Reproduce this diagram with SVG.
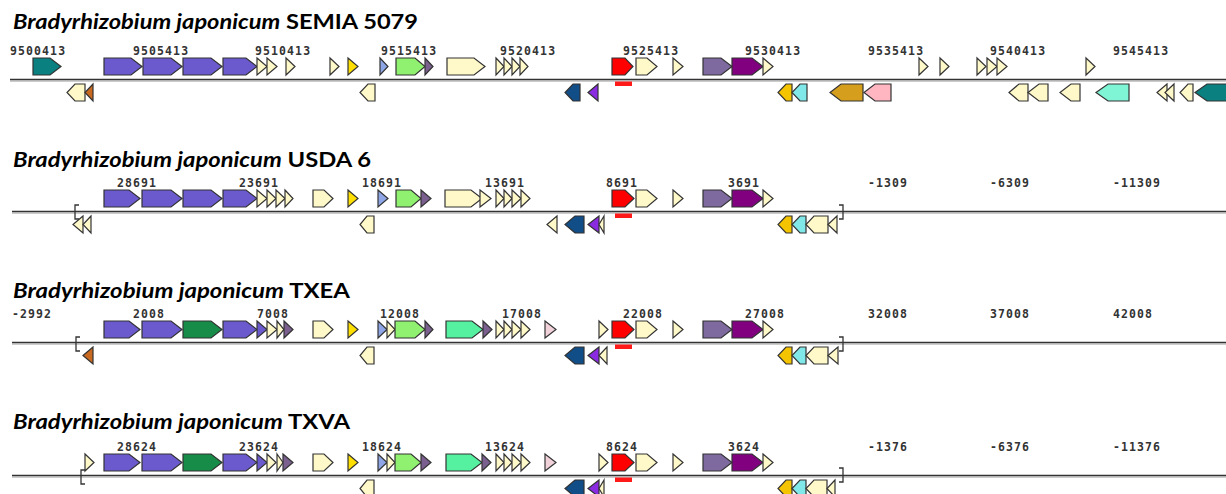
<svg xmlns="http://www.w3.org/2000/svg" width="1226" height="494" viewBox="0 0 1226 494">
<style>
.title{font-family:Lato,"Open Sans","Liberation Sans",sans-serif;font-weight:bold;font-size:21px;fill:#000}
.it{font-style:italic}
.lbl{font-family:"DejaVu Sans Mono","Liberation Mono",monospace;font-size:11.5px;font-weight:bold;fill:#333;letter-spacing:1.1px}
polygon{stroke:#333;stroke-width:1.2;stroke-linejoin:miter}
.ax1{stroke:#333;stroke-width:1.6}
.ax2{stroke:#9a9a9a;stroke-width:1}
.br{fill:none;stroke:#333;stroke-width:1.3}
.bar{fill:#ff1a1a}
.slate{fill:#6a5acd}.teal{fill:#0a8080}.pale{fill:#fff8c8}.yel{fill:#ffdf00}.lblue{fill:#8fa6e6}
.lgreen{fill:#90f070}.gp{fill:#7a5f8f}.red{fill:#ff0000}.gpb{fill:#7f6a9f}.purp{fill:#800080}
.dblue{fill:#114d86}.bv{fill:#8a2be2}.gold{fill:#f5c400}.cyan{fill:#80e8e8}.gr{fill:#d59f1d}
.pink{fill:#ffb6c1}.aqua{fill:#7ff5d5}.dgreen{fill:#178c48}.sgreen{fill:#55f0a0}.ppink{fill:#f2d2da}.orng{fill:#c8691f}
</style>

<!-- Track 1 -->
<g id="track-semia5079">
<text class="title" x="13" y="29" textLength="405" lengthAdjust="spacingAndGlyphs"><tspan class="it">Bradyrhizobium japonicum</tspan> SEMIA 5079</text>
<g transform="translate(0,58)">
<g class="lbl"><text x="10" y="-3">9500413</text><text x="133" y="-3">9505413</text><text x="255" y="-3">9510413</text><text x="381" y="-3">9515413</text><text x="500" y="-3">9520413</text><text x="623" y="-3">9525413</text><text x="745" y="-3">9530413</text><text x="868" y="-3">9535413</text><text x="990" y="-3">9540413</text><text x="1113" y="-3">9545413</text></g>
<line class="ax1" x1="10" y1="21.5" x2="1226" y2="21.5"/><line class="ax2" x1="10" y1="23" x2="1226" y2="23"/>
<g id="t1-genes">
<polygon class="teal" points="33,0 50,0 61,8.5 50,17 33,17"/>
<polygon class="slate" points="104,0 131,0 142,8.5 131,17 104,17"/>
<polygon class="slate" points="143,0 171,0 182,8.5 171,17 143,17"/>
<polygon class="slate" points="183,0 211,0 222,8.5 211,17 183,17"/>
<polygon class="slate" points="223,0 246,0 257,8.5 246,17 223,17"/>
<polygon class="pale" points="257,0 267,8.5 257,17"/>
<polygon class="pale" points="267,0 277,8.5 267,17"/>
<polygon class="pale" points="286,0 295,8.5 286,17"/>
<polygon class="pale" points="330,0 339,8.5 330,17"/>
<polygon class="yel" points="348,0 358,8.5 348,17"/>
<polygon class="lblue" points="380,0 388,8.5 380,17"/>
<polygon class="lgreen" points="396,0 415,0 425,8.5 415,17 396,17"/>
<polygon class="gp" points="425,0 433,8.5 425,17"/>
<polygon class="pale" points="447,0 474,0 485,8.5 474,17 447,17"/>
<polygon class="pale" points="496,0 504,8.5 496,17"/>
<polygon class="pale" points="504,0 512,8.5 504,17"/>
<polygon class="pale" points="512,0 520,8.5 512,17"/>
<polygon class="pale" points="520,0 528,8.5 520,17"/>
<polygon class="red" points="612,0 625,0 633,8.5 625,17 612,17"/>
<polygon class="pale" points="636,0 647,0 657,8.5 647,17 636,17"/>
<polygon class="pale" points="673,0 683,8.5 673,17"/>
<polygon class="gpb" points="703,0 721,0 732,8.5 721,17 703,17"/>
<polygon class="purp" points="732,0 752,0 763,8.5 752,17 732,17"/>
<polygon class="pale" points="763,0 773,8.5 763,17"/>
<polygon class="pale" points="919,0 928,8.5 919,17"/>
<polygon class="pale" points="940,0 949,8.5 940,17"/>
<polygon class="pale" points="977,0 986,8.5 977,17"/>
<polygon class="pale" points="987,0 997,8.5 987,17"/>
<polygon class="pale" points="997,0 1007,8.5 997,17"/>
<polygon class="pale" points="1086,0 1095,8.5 1086,17"/>
<polygon class="pale" points="85,26 75,26 67,34.5 75,43 85,43"/>
<polygon class="orng" points="93,26 85,34.5 93,43"/>
<polygon class="pale" points="375,26 368,26 360,34.5 368,43 375,43"/>
<polygon class="dblue" points="580,26 573,26 565,34.5 573,43 580,43"/>
<polygon class="bv" points="598,26 588,34.5 598,43"/>
<rect class="bar" x="615" y="23.5" width="17" height="4.5"/>
<polygon class="gold" points="792,26 786,26 778,34.5 786,43 792,43"/>
<polygon class="cyan" points="807,26 800,26 792,34.5 800,43 807,43"/>
<polygon class="gr" points="863,26 841,26 830,34.5 841,43 863,43"/>
<polygon class="pink" points="891,26 875,26 864,34.5 875,43 891,43"/>
<polygon class="pale" points="1028,26 1019,26 1009,34.5 1019,43 1028,43"/>
<polygon class="pale" points="1048,26 1039,26 1028,34.5 1039,43 1048,43"/>
<polygon class="pale" points="1080,26 1071,26 1060,34.5 1071,43 1080,43"/>
<polygon class="aqua" points="1129,26 1108,26 1096,34.5 1108,43 1129,43"/>
<polygon class="pale" points="1167,26 1157,34.5 1167,43"/>
<polygon class="pale" points="1174,26 1165,34.5 1174,43"/>
<polygon class="pale" points="1193,26 1188,26 1180,34.5 1188,43 1193,43"/>
<polygon class="teal" points="1232,26 1207,26 1195,34.5 1207,43 1232,43"/>
</g>
</g>
</g>

<!-- Track 2 -->
<g id="track-usda6">
<text class="title" x="13" y="167" textLength="358" lengthAdjust="spacingAndGlyphs"><tspan class="it">Bradyrhizobium japonicum</tspan> USDA 6</text>
<g transform="translate(0,190)">
<g class="lbl"><text x="117" y="-3">28691</text><text x="239" y="-3">23691</text><text x="362" y="-3">18691</text><text x="485" y="-3">13691</text><text x="606" y="-3">8691</text><text x="728" y="-3">3691</text><text x="868" y="-3">-1309</text><text x="990" y="-3">-6309</text><text x="1113" y="-3">-11309</text></g>
<line class="ax1" x1="12" y1="21.5" x2="1226" y2="21.5"/><line class="ax2" x1="12" y1="23" x2="1226" y2="23"/>
<path class="br" d="M79,15 H75 V29 H79"/><path class="br" d="M839,15 H843 V29 H839"/>
<g id="t2-genes">
<polygon class="slate" points="104,0 129,0 140,8.5 129,17 104,17"/>
<polygon class="slate" points="142,0 171,0 182,8.5 171,17 142,17"/>
<polygon class="slate" points="183,0 211,0 222,8.5 211,17 183,17"/>
<polygon class="slate" points="223,0 246,0 257,8.5 246,17 223,17"/>
<polygon class="pale" points="257,0 267,8.5 257,17"/>
<polygon class="pale" points="267,0 276,8.5 267,17"/>
<polygon class="pale" points="276,0 285,8.5 276,17"/>
<polygon class="pale" points="285,0 293,8.5 285,17"/>
<polygon class="pale" points="313,0 324,0 333,8.5 324,17 313,17"/>
<polygon class="yel" points="348,0 358,8.5 348,17"/>
<polygon class="lblue" points="378,0 388,8.5 378,17"/>
<polygon class="lgreen" points="396,0 411,0 421,8.5 411,17 396,17"/>
<polygon class="gp" points="421,0 431,8.5 421,17"/>
<polygon class="pale" points="445,0 471,0 482,8.5 471,17 445,17"/>
<polygon class="pale" points="480,0 491,8.5 480,17"/>
<polygon class="pale" points="496,0 504,8.5 496,17"/>
<polygon class="pale" points="504,0 512,8.5 504,17"/>
<polygon class="pale" points="512,0 521,8.5 512,17"/>
<polygon class="pale" points="521,0 530,8.5 521,17"/>
<polygon class="red" points="612,0 625,0 634,8.5 625,17 612,17"/>
<polygon class="pale" points="636,0 647,0 657,8.5 647,17 636,17"/>
<polygon class="pale" points="673,0 683,8.5 673,17"/>
<polygon class="gpb" points="703,0 721,0 732,8.5 721,17 703,17"/>
<polygon class="purp" points="732,0 752,0 763,8.5 752,17 732,17"/>
<polygon class="pale" points="763,0 773,8.5 763,17"/>
<polygon class="pale" points="83,26 73,34.5 83,43"/>
<polygon class="pale" points="91,26 83,34.5 91,43"/>
<polygon class="pale" points="374,26 367,26 360,34.5 367,43 374,43"/>
<polygon class="pale" points="557,26 547,34.5 557,43"/>
<polygon class="dblue" points="584,26 575,26 565,34.5 575,43 584,43"/>
<polygon class="bv" points="599,26 588,34.5 599,43"/>
<polygon class="pale" points="604,26 599,34.5 604,43"/>
<rect class="bar" x="615" y="23.5" width="17" height="4.5"/>
<polygon class="gold" points="792,26 786,26 778,34.5 786,43 792,43"/>
<polygon class="cyan" points="806,26 800,26 792,34.5 800,43 806,43"/>
<polygon class="pale" points="828,26 814,26 806,34.5 814,43 828,43"/>
<polygon class="pale" points="837,26 828,34.5 837,43"/>
</g>
</g>
</g>

<!-- Track 3 -->
<g id="track-txea">
<text class="title" x="13" y="298" textLength="337" lengthAdjust="spacingAndGlyphs"><tspan class="it">Bradyrhizobium japonicum</tspan> TXEA</text>
<g transform="translate(0,321)">
<g class="lbl"><text x="12" y="-3">-2992</text><text x="133" y="-3">2008</text><text x="257" y="-3">7008</text><text x="380" y="-3">12008</text><text x="502" y="-3">17008</text><text x="623" y="-3">22008</text><text x="745" y="-3">27008</text><text x="868" y="-3">32008</text><text x="990" y="-3">37008</text><text x="1113" y="-3">42008</text></g>
<line class="ax1" x1="12" y1="21.5" x2="1226" y2="21.5"/><line class="ax2" x1="12" y1="23" x2="1226" y2="23"/>
<path class="br" d="M80,16 H76 V30 H80"/><path class="br" d="M839,16 H843 V30 H839"/>
<g id="t3-genes">
<polygon class="slate" points="104,0 129,0 140,8.5 129,17 104,17"/>
<polygon class="slate" points="142,0 171,0 182,8.5 171,17 142,17"/>
<polygon class="dgreen" points="183,0 211,0 222,8.5 211,17 183,17"/>
<polygon class="slate" points="223,0 246,0 257,8.5 246,17 223,17"/>
<polygon class="slate" points="257,0 267,8.5 257,17"/>
<polygon class="pale" points="267,0 277,8.5 267,17"/>
<polygon class="pale" points="277,0 284,8.5 277,17"/>
<polygon class="gp" points="284,0 293,8.5 284,17"/>
<polygon class="pale" points="313,0 324,0 333,8.5 324,17 313,17"/>
<polygon class="yel" points="348,0 358,8.5 348,17"/>
<polygon class="lblue" points="378,0 387,8.5 378,17"/>
<polygon class="pale" points="387,0 395,8.5 387,17"/>
<polygon class="lgreen" points="395,0 415,0 425,8.5 415,17 395,17"/>
<polygon class="gp" points="425,0 433,8.5 425,17"/>
<polygon class="sgreen" points="446,0 472,0 483,8.5 472,17 446,17"/>
<polygon class="gp" points="483,0 492,8.5 483,17"/>
<polygon class="pale" points="496,0 504,8.5 496,17"/>
<polygon class="pale" points="504,0 512,8.5 504,17"/>
<polygon class="pale" points="512,0 521,8.5 512,17"/>
<polygon class="pale" points="521,0 530,8.5 521,17"/>
<polygon class="ppink" points="545,0 556,8.5 545,17"/>
<polygon class="pale" points="599,0 608,8.5 599,17"/>
<polygon class="red" points="612,0 625,0 634,8.5 625,17 612,17"/>
<polygon class="pale" points="636,0 647,0 657,8.5 647,17 636,17"/>
<polygon class="pale" points="673,0 683,8.5 673,17"/>
<polygon class="gpb" points="703,0 721,0 732,8.5 721,17 703,17"/>
<polygon class="purp" points="732,0 752,0 763,8.5 752,17 732,17"/>
<polygon class="pale" points="763,0 773,8.5 763,17"/>
<polygon class="orng" points="93,26 83,34.5 93,43"/>
<polygon class="pale" points="374,26 367,26 360,34.5 367,43 374,43"/>
<polygon class="dblue" points="584,26 575,26 565,34.5 575,43 584,43"/>
<polygon class="bv" points="599,26 588,34.5 599,43"/>
<polygon class="pale" points="607,26 599,34.5 607,43"/>
<rect class="bar" x="615" y="23.5" width="17" height="4.5"/>
<polygon class="gold" points="792,26 786,26 778,34.5 786,43 792,43"/>
<polygon class="cyan" points="806,26 800,26 792,34.5 800,43 806,43"/>
<polygon class="pale" points="828,26 814,26 806,34.5 814,43 828,43"/>
<polygon class="pale" points="838,26 828,34.5 838,43"/>
</g>
</g>
</g>

<!-- Track 4 -->
<g id="track-txva">
<text class="title" x="13" y="429" textLength="337" lengthAdjust="spacingAndGlyphs"><tspan class="it">Bradyrhizobium japonicum</tspan> TXVA</text>
<g transform="translate(0,454)">
<g class="lbl"><text x="117" y="-3">28624</text><text x="239" y="-3">23624</text><text x="362" y="-3">18624</text><text x="485" y="-3">13624</text><text x="606" y="-3">8624</text><text x="728" y="-3">3624</text><text x="868" y="-3">-1376</text><text x="990" y="-3">-6376</text><text x="1113" y="-3">-11376</text></g>
<line class="ax1" x1="12" y1="21.5" x2="1226" y2="21.5"/><line class="ax2" x1="12" y1="23" x2="1226" y2="23"/>
<path class="br" d="M85,16 H81 V30 H85"/><path class="br" d="M839,14 H843 V28 H839"/>
<g id="t4-genes">
<polygon class="pale" points="85,0 94,8.5 85,17"/>
<polygon class="slate" points="104,0 129,0 140,8.5 129,17 104,17"/>
<polygon class="slate" points="142,0 171,0 182,8.5 171,17 142,17"/>
<polygon class="dgreen" points="183,0 211,0 222,8.5 211,17 183,17"/>
<polygon class="slate" points="223,0 246,0 257,8.5 246,17 223,17"/>
<polygon class="slate" points="257,0 267,8.5 257,17"/>
<polygon class="pale" points="267,0 276,8.5 267,17"/>
<polygon class="pale" points="277,0 283,8.5 277,17"/>
<polygon class="gp" points="283,0 293,8.5 283,17"/>
<polygon class="pale" points="313,0 324,0 333,8.5 324,17 313,17"/>
<polygon class="yel" points="348,0 358,8.5 348,17"/>
<polygon class="lblue" points="378,0 387,8.5 378,17"/>
<polygon class="pale" points="387,0 395,8.5 387,17"/>
<polygon class="lgreen" points="395,0 411,0 421,8.5 411,17 395,17"/>
<polygon class="gp" points="421,0 431,8.5 421,17"/>
<polygon class="sgreen" points="446,0 471,0 482,8.5 471,17 446,17"/>
<polygon class="gp" points="482,0 491,8.5 482,17"/>
<polygon class="pale" points="496,0 504,8.5 496,17"/>
<polygon class="pale" points="504,0 512,8.5 504,17"/>
<polygon class="pale" points="512,0 521,8.5 512,17"/>
<polygon class="pale" points="521,0 530,8.5 521,17"/>
<polygon class="ppink" points="545,0 556,8.5 545,17"/>
<polygon class="pale" points="599,0 608,8.5 599,17"/>
<polygon class="red" points="612,0 625,0 634,8.5 625,17 612,17"/>
<polygon class="pale" points="636,0 647,0 657,8.5 647,17 636,17"/>
<polygon class="pale" points="673,0 683,8.5 673,17"/>
<polygon class="gpb" points="703,0 721,0 732,8.5 721,17 703,17"/>
<polygon class="purp" points="732,0 752,0 763,8.5 752,17 732,17"/>
<polygon class="pale" points="763,0 773,8.5 763,17"/>
<polygon class="pale" points="374,26 367,26 360,34.5 367,43 374,43"/>
<polygon class="dblue" points="584,26 575,26 565,34.5 575,43 584,43"/>
<polygon class="bv" points="599,26 588,34.5 599,43"/>
<polygon class="pale" points="604,26 599,34.5 604,43"/>
<rect class="bar" x="615" y="23.5" width="17" height="4.5"/>
<polygon class="gold" points="792,26 786,26 778,34.5 786,43 792,43"/>
<polygon class="cyan" points="806,26 800,26 792,34.5 800,43 806,43"/>
<polygon class="pale" points="827,26 814,26 806,34.5 814,43 827,43"/>
<polygon class="pale" points="835,26 827,34.5 835,43"/>
</g>
</g>
</g>
<g id="connectors"/>
</svg>
